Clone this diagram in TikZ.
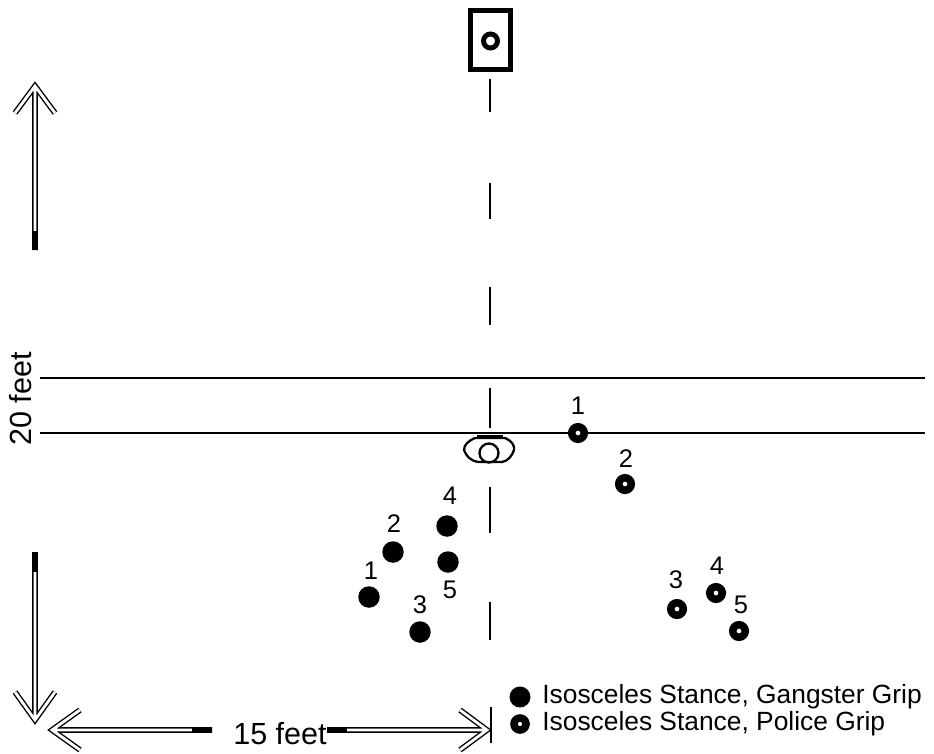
\documentclass[tikz,border=0pt]{standalone}
\usepackage{fontspec}
\setmainfont{Liberation Sans}
\begin{document}
\begin{tikzpicture}[x=0.02cm,y=-0.02cm,
  thinline/.style={line width=1.3pt},
  dashseg/.style={line width=1.4pt},
  gdot/.style={circle,fill=black,inner sep=0pt,minimum size=0.43cm},
  pdot/.style={circle,draw=black,line width=4.3pt,fill=white,inner sep=0pt,minimum size=0.25cm},
  lbl/.style={font=\fontsize{14.5}{16}\selectfont,inner sep=0pt},
  legtext/.style={font=\fontsize{15}{18}\selectfont,inner sep=0pt,anchor=west},
  dimtext/.style={font=\fontsize{17.4}{20}\selectfont,inner sep=0pt},
  dbl/.style={double=white,line width=0.8pt,double distance=1.6pt,line join=miter},
  tailmark/.style={line width=3.1pt}
]
\useasboundingbox (0,0) rectangle (934,754);

% target
\node[draw,line width=2.8pt,minimum width=0.8cm,minimum height=1.18cm,inner sep=0pt] (target) at (490.5,40) {};
\node[circle,draw,line width=2.8pt,minimum size=0.28cm,inner sep=0pt] (bull) at (490.5,41) {};

% center dashed line
\foreach \a/\b in {79/112,183/219,287/325,388/428,487/533,602/640}
  \draw[dashseg] (490,\a) -- (490,\b);

% horizontal lines
\coordinate (l1a) at (40,378); \coordinate (l1b) at (925,378);
\coordinate (l2a) at (40,433); \coordinate (l2b) at (925,433);
\draw[thinline] (l1a) -- (l1b);
\draw[thinline] (l2a) -- (l2b);

% shooter
\draw[thinline] (475,438) -- (505,438) .. controls (512,441) and (515,446) .. (514,450)
  .. controls (512,456) and (508,461) .. (502,462) -- (478,462)
  .. controls (471,461) and (466,456) .. (464,450)
  .. controls (464,445) and (468,441) .. (475,438) -- cycle;
\draw[line width=2.4pt] (477,437) -- (503,437);
\node[circle,draw,thinline,minimum size=0.38cm,inner sep=0pt] (shooter) at (489,453) {};

% vertical arrows
\coordinate (upTip) at (35,86); \coordinate (upTail) at (35,250);
\draw[dbl] (15,113) -- (upTip) -- (55,113) (35,88) -- (upTail);
\draw[tailmark] (35,231) -- (upTail);

\coordinate (dnTip) at (35,720); \coordinate (dnTail) at (35,552);
\draw[dbl] (15,692) -- (dnTip) -- (55,692) (35,718) -- (dnTail);
\draw[tailmark] (dnTail) -- (35,572);

\node[dimtext,rotate=90] (twenty) at (21,399) {20 feet};

% horizontal arrows
\coordinate (lTip) at (52,730); \coordinate (lTail) at (212,730);
\draw[dbl] (80,710) -- (lTip) -- (80,750) (54,730) -- (lTail);
\draw[tailmark] (192,730) -- (lTail);

\coordinate (rTip) at (487,730); \coordinate (rTail) at (327,730);
\draw[dbl] (460,710) -- (rTip) -- (460,750) (485,730) -- (rTail);
\draw[tailmark] (rTail) -- (347,730);
\coordinate (tickA) at (491,707); \coordinate (tickB) at (491,743);
\draw[thinline] (tickA) -- (tickB);

\node[dimtext] (fifteen) at (280,734) {15 feet};

% gangster grip
\node[gdot] (g1) at (369,597) {}; \node[lbl] (g1l) at (371,571) {1};
\node[gdot] (g2) at (393,552) {}; \node[lbl] (g2l) at (394,524) {2};
\node[gdot] (g3) at (420,632) {}; \node[lbl] (g3l) at (420,605) {3};
\node[gdot] (g4) at (447,526) {}; \node[lbl] (g4l) at (450,496) {4};
\node[gdot] (g5) at (448,562) {}; \node[lbl] (g5l) at (450,590) {5};

% police grip
\node[pdot] (p1) at (578,433) {}; \node[lbl] (p1l) at (578,406) {1};
\node[pdot] (p2) at (625,484) {}; \node[lbl] (p2l) at (626,459) {2};
\node[pdot] (p3) at (677,609) {}; \node[lbl] (p3l) at (676,580) {3};
\node[pdot] (p4) at (716,593) {}; \node[lbl] (p4l) at (717,566) {4};
\node[pdot] (p5) at (739,631) {}; \node[lbl] (p5l) at (741,605) {5};

% legend
\node[gdot,minimum size=0.42cm] (lg) at (520,697) {};
\node[legtext] (lgt) at (542,697) {Isosceles Stance, Gangster Grip};
\node[pdot,minimum size=0.24cm] (lp) at (520,724) {};
\node[legtext] (lpt) at (542,724) {Isosceles Stance, Police Grip};
\end{tikzpicture}
\end{document}
